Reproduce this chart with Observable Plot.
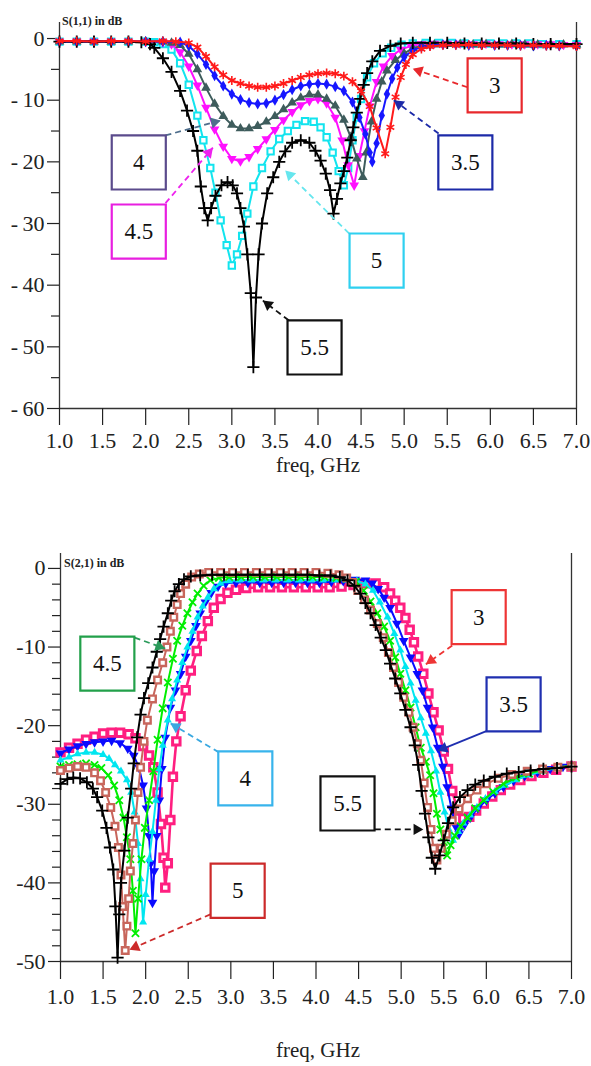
<!DOCTYPE html>
<html><head><meta charset="utf-8">
<script src="https://cdn.jsdelivr.net/npm/d3@7"></script>
<script src="https://cdn.jsdelivr.net/npm/@observablehq/plot@0.6"></script>
<style>
body{margin:0;background:#fff;}
#wrap{position:relative;width:591px;height:1066px;overflow:hidden;font-family:"Liberation Serif","Times New Roman",serif;color:#222;}
#wrap svg{position:absolute;left:0;font-family:"Liberation Serif","Times New Roman",serif !important;}
#wrap svg text{font-family:"Liberation Serif","Times New Roman",serif !important;}
.t{position:absolute;white-space:nowrap;}
.ttl{font-weight:bold;font-size:12px;line-height:12px;}
.xl{font-size:21px;line-height:21px;width:200px;text-align:center;}
</style></head><body><div id="wrap"></div>
<script>
// ---------- DATA ----------
const xTicks = [1.0,1.5,2.0,2.5,3.0,3.5,4.0,4.5,5.0,5.5,6.0,6.5,7.0];
const s11Major = [0,-10,-20,-30,-40,-50,-60];
const s11Minor = [-5,-15,-25,-35,-45,-55];
const s21Major = [0,-10,-20,-30,-40,-50];
const s21Minor = [-2,-4,-6,-8,-12,-14,-16,-18,-22,-24,-26,-28,-32,-34,-36,-38,-42,-44,-46,-48];

// S(1,1) series: [freq GHz, dB]
const s11_3 = [[1.0,-0.4],[1.2,-0.4],[1.4,-0.5],[1.6,-0.4],[1.8,-0.4],[2.0,-0.5],[2.2,-0.4],[2.35,-0.5],[2.5,-0.7],[2.6,-1.4],[2.7,-2.9],[2.8,-4.6],[2.9,-5.9],[3.0,-6.8],[3.1,-7.3],[3.2,-7.7],[3.3,-7.9],[3.4,-7.9],[3.5,-7.7],[3.6,-7.3],[3.7,-6.8],[3.8,-6.3],[3.9,-5.9],[4.0,-5.7],[4.1,-5.6],[4.2,-5.7],[4.3,-6.1],[4.4,-7.0],[4.5,-8.5],[4.6,-11.0],[4.68,-14.5],[4.78,-18.7],[4.84,-14.4],[4.9,-9.5],[4.96,-6.3],[5.02,-4.2],[5.1,-2.6],[5.2,-1.7],[5.3,-1.3],[5.45,-1.1],[5.6,-1.1],[5.75,-1.0],[5.9,-1.1],[6.05,-1.1],[6.2,-1.1],[6.35,-1.2],[6.5,-1.1],[6.65,-1.2],[6.8,-1.2],[7.0,-1.3]];
const s11_35 = [[1.0,-0.5],[1.2,-0.5],[1.4,-0.5],[1.6,-0.5],[1.8,-0.5],[2.0,-0.5],[2.2,-0.5],[2.4,-0.6],[2.5,-1.2],[2.6,-2.5],[2.7,-4.2],[2.8,-6.0],[2.9,-7.7],[3.0,-9.0],[3.1,-9.9],[3.2,-10.4],[3.3,-10.6],[3.4,-10.5],[3.5,-10.0],[3.6,-9.1],[3.7,-8.3],[3.8,-7.7],[3.9,-7.4],[4.0,-7.3],[4.1,-7.4],[4.2,-7.8],[4.3,-8.5],[4.4,-10.3],[4.48,-12.8],[4.55,-15.5],[4.6,-18.5],[4.63,-20.0],[4.68,-17.0],[4.74,-12.5],[4.8,-9.0],[4.86,-6.5],[4.92,-4.7],[5.0,-3.0],[5.1,-1.9],[5.2,-1.4],[5.3,-1.1],[5.45,-1.0],[5.6,-1.0],[5.75,-1.1],[5.9,-1.0],[6.05,-1.1],[6.2,-1.1],[6.35,-1.1],[6.5,-1.2],[6.65,-1.1],[6.8,-1.2],[7.0,-1.2]];
const s11_4 = [[1.0,-0.5],[1.2,-0.5],[1.4,-0.5],[1.6,-0.5],[1.8,-0.5],[2.0,-0.5],[2.2,-0.5],[2.3,-0.7],[2.4,-1.1],[2.5,-2.5],[2.6,-5.0],[2.7,-8.0],[2.8,-10.6],[2.9,-12.6],[3.0,-14.0],[3.1,-14.6],[3.2,-14.6],[3.3,-14.2],[3.4,-13.5],[3.5,-12.6],[3.6,-11.5],[3.7,-10.4],[3.8,-9.6],[3.9,-9.1],[4.0,-9.1],[4.1,-9.8],[4.2,-10.9],[4.3,-13.2],[4.38,-16.0],[4.45,-19.5],[4.52,-22.5],[4.56,-18.5],[4.62,-13.5],[4.68,-9.8],[4.74,-7.0],[4.8,-5.2],[4.9,-3.5],[5.0,-2.4],[5.1,-1.6],[5.2,-1.2],[5.35,-1.0],[5.5,-0.9],[5.65,-0.9],[5.8,-1.0],[5.95,-0.9],[6.1,-1.0],[6.25,-0.9],[6.4,-1.0],[6.55,-1.0],[6.7,-1.0],[6.85,-1.0],[7.0,-1.0]];
const s11_45 = [[1.0,-0.5],[1.2,-0.5],[1.4,-0.5],[1.6,-0.5],[1.8,-0.5],[2.0,-0.5],[2.2,-0.6],[2.3,-0.9],[2.4,-2.2],[2.5,-4.5],[2.6,-7.6],[2.7,-11.2],[2.8,-14.7],[2.9,-17.5],[3.0,-19.5],[3.1,-19.9],[3.2,-19.2],[3.3,-17.9],[3.4,-16.3],[3.5,-14.8],[3.6,-13.2],[3.7,-11.9],[3.8,-10.8],[3.9,-10.1],[4.0,-9.8],[4.1,-10.5],[4.2,-12.8],[4.28,-16.5],[4.35,-20.5],[4.42,-23.8],[4.48,-19.0],[4.54,-15.0],[4.6,-11.0],[4.68,-7.0],[4.76,-4.5],[4.86,-2.8],[4.96,-1.8],[5.08,-1.2],[5.2,-0.9],[5.35,-0.8],[5.5,-0.8],[5.65,-0.8],[5.8,-0.9],[5.95,-0.8],[6.1,-0.9],[6.25,-0.9],[6.4,-0.9],[6.55,-0.9],[6.7,-0.9],[6.85,-1.0],[7.0,-1.0]];
const s11_5 = [[1.0,-0.5],[1.2,-0.5],[1.4,-0.5],[1.6,-0.5],[1.8,-0.5],[2.0,-0.5],[2.1,-0.6],[2.2,-0.9],[2.3,-1.8],[2.4,-4.0],[2.5,-7.5],[2.6,-12.5],[2.67,-16.5],[2.75,-21.0],[2.81,-25.0],[2.87,-29.5],[2.94,-33.5],[3.0,-36.8],[3.06,-35.0],[3.12,-32.0],[3.18,-28.4],[3.25,-24.0],[3.35,-21.0],[3.45,-18.3],[3.55,-16.3],[3.65,-15.0],[3.75,-14.0],[3.85,-13.4],[3.95,-13.5],[4.03,-14.4],[4.1,-16.0],[4.17,-18.5],[4.24,-21.5],[4.3,-23.8],[4.35,-21.0],[4.4,-16.5],[4.45,-12.8],[4.5,-9.8],[4.57,-6.3],[4.65,-4.0],[4.75,-2.4],[4.85,-1.5],[4.97,-1.0],[5.1,-0.8],[5.25,-0.7],[5.4,-0.7],[5.55,-0.7],[5.7,-0.8],[5.85,-0.8],[6.0,-0.8],[6.15,-0.8],[6.3,-0.8],[6.45,-0.8],[6.6,-0.9],[6.8,-0.9],[7.0,-0.9]];
const s11_55 = [[1.0,-0.5],[1.2,-0.5],[1.4,-0.5],[1.6,-0.5],[1.8,-0.5],[1.95,-0.6],[2.05,-0.9],[2.1,-1.5],[2.2,-3.2],[2.3,-5.4],[2.4,-8.5],[2.48,-11.7],[2.55,-15.0],[2.6,-18.2],[2.64,-24.0],[2.68,-27.5],[2.72,-29.5],[2.76,-27.5],[2.81,-25.5],[2.88,-23.8],[2.95,-23.3],[3.01,-23.8],[3.06,-25.1],[3.1,-27.5],[3.14,-30.5],[3.18,-35.0],[3.22,-41.3],[3.25,-53.3],[3.28,-42.0],[3.31,-35.0],[3.35,-30.0],[3.41,-25.1],[3.48,-22.5],[3.55,-20.0],[3.62,-18.3],[3.7,-16.9],[3.8,-16.5],[3.9,-16.9],[3.97,-18.2],[4.03,-19.8],[4.09,-21.9],[4.14,-24.6],[4.18,-28.4],[4.22,-26.0],[4.26,-23.5],[4.3,-21.5],[4.34,-19.3],[4.38,-16.5],[4.41,-14.4],[4.45,-12.0],[4.49,-9.8],[4.53,-7.5],[4.57,-5.6],[4.63,-3.7],[4.72,-2.0],[4.84,-1.2],[4.96,-0.8],[5.1,-0.7],[5.3,-0.7],[5.5,-0.7],[5.7,-0.8],[5.9,-0.8],[6.1,-0.8],[6.3,-0.8],[6.5,-0.9],[6.7,-0.9],[7.0,-0.9]];

// S(2,1) series: [freq GHz, dB]
const s21_3 = [[1.0,-23.4],[1.1,-22.8],[1.2,-22.3],[1.3,-21.8],[1.4,-21.4],[1.5,-21.0],[1.6,-20.9],[1.7,-20.9],[1.8,-21.1],[1.88,-21.6],[1.97,-22.6],[2.04,-23.8],[2.09,-25.3],[2.14,-28.5],[2.18,-32.5],[2.21,-36.8],[2.23,-40.6],[2.26,-37.5],[2.29,-32.0],[2.32,-26.5],[2.36,-22.0],[2.41,-18.8],[2.47,-15.5],[2.53,-13.0],[2.6,-10.5],[2.66,-8.6],[2.73,-6.7],[2.8,-5.0],[2.88,-3.9],[2.96,-3.1],[3.06,-2.7],[3.18,-2.5],[3.32,-2.4],[3.46,-2.4],[3.6,-2.4],[3.74,-2.4],[3.88,-2.4],[4.02,-2.4],[4.16,-2.4],[4.3,-2.3],[4.44,-2.1],[4.58,-1.9],[4.7,-1.9],[4.8,-2.4],[4.87,-3.2],[4.93,-4.1],[4.99,-5.0],[5.05,-6.3],[5.1,-7.8],[5.15,-9.4],[5.2,-11.2],[5.26,-13.4],[5.32,-15.9],[5.38,-18.3],[5.44,-20.6],[5.5,-23.3],[5.55,-25.5],[5.6,-28.3],[5.66,-30.8],[5.73,-31.8],[5.8,-31.6],[5.88,-30.8],[5.97,-29.9],[6.07,-29.0],[6.17,-28.2],[6.28,-27.5],[6.4,-26.9],[6.53,-26.4],[6.67,-26.0],[6.82,-25.6],[7.0,-25.2]];
const s21_35 = [[1.0,-23.5],[1.1,-23.0],[1.2,-22.6],[1.3,-22.3],[1.4,-22.1],[1.5,-22.0],[1.6,-21.9],[1.7,-22.2],[1.79,-22.9],[1.86,-23.8],[1.92,-25.3],[1.97,-27.6],[2.01,-30.5],[2.04,-34.0],[2.06,-37.5],[2.08,-42.5],[2.1,-38.5],[2.13,-34.0],[2.16,-29.5],[2.19,-25.5],[2.23,-21.5],[2.29,-17.7],[2.35,-15.5],[2.41,-13.4],[2.47,-11.2],[2.53,-9.2],[2.59,-7.3],[2.64,-5.7],[2.7,-4.3],[2.77,-3.1],[2.85,-2.3],[2.94,-1.9],[3.06,-1.8],[3.2,-1.8],[3.34,-1.8],[3.48,-1.8],[3.62,-1.8],[3.76,-1.8],[3.9,-1.8],[4.04,-1.8],[4.18,-1.7],[4.32,-1.6],[4.46,-1.4],[4.58,-1.5],[4.66,-1.9],[4.73,-2.6],[4.8,-3.7],[4.87,-5.0],[4.95,-7.0],[5.03,-9.2],[5.11,-11.3],[5.19,-13.4],[5.25,-15.5],[5.31,-17.7],[5.37,-20.2],[5.43,-22.8],[5.49,-25.2],[5.54,-27.8],[5.59,-30.5],[5.64,-32.8],[5.68,-33.8],[5.74,-32.7],[5.81,-31.7],[5.9,-30.5],[6.0,-29.5],[6.1,-28.6],[6.2,-27.8],[6.32,-27.0],[6.45,-26.4],[6.6,-25.9],[6.75,-25.5],[6.9,-25.2],[7.0,-25.0]];
const s21_4 = [[1.0,-24.4],[1.1,-24.0],[1.2,-23.6],[1.3,-23.4],[1.4,-23.4],[1.5,-23.7],[1.57,-24.2],[1.64,-25.0],[1.71,-25.8],[1.78,-26.9],[1.83,-28.5],[1.87,-31.0],[1.91,-35.0],[1.94,-39.5],[1.97,-45.0],[2.0,-41.5],[2.04,-37.0],[2.08,-33.5],[2.12,-29.5],[2.16,-25.5],[2.2,-22.5],[2.26,-19.3],[2.31,-16.6],[2.37,-14.2],[2.43,-12.0],[2.49,-10.0],[2.55,-8.0],[2.61,-6.2],[2.67,-4.8],[2.73,-3.7],[2.8,-2.6],[2.88,-1.9],[2.98,-1.6],[3.1,-1.5],[3.24,-1.5],[3.38,-1.5],[3.52,-1.5],[3.66,-1.5],[3.8,-1.5],[3.94,-1.5],[4.08,-1.5],[4.22,-1.5],[4.36,-1.5],[4.48,-1.6],[4.58,-2.0],[4.67,-2.8],[4.75,-4.3],[4.84,-6.2],[4.92,-8.3],[4.99,-10.4],[5.05,-12.5],[5.11,-14.6],[5.17,-16.8],[5.23,-19.0],[5.29,-21.0],[5.35,-23.2],[5.41,-25.8],[5.46,-28.5],[5.51,-31.0],[5.56,-33.2],[5.61,-34.6],[5.67,-33.5],[5.73,-32.4],[5.81,-31.4],[5.89,-30.4],[5.99,-29.3],[6.1,-28.4],[6.22,-27.6],[6.35,-26.9],[6.5,-26.3],[6.65,-25.8],[6.82,-25.4],[7.0,-25.1]];
const s21_45 = [[1.0,-25.2],[1.1,-25.0],[1.2,-24.9],[1.3,-24.8],[1.4,-25.0],[1.48,-25.4],[1.56,-26.3],[1.63,-27.6],[1.69,-29.5],[1.74,-31.7],[1.78,-34.2],[1.82,-37.0],[1.85,-41.0],[1.88,-46.4],[1.91,-42.0],[1.95,-37.0],[1.99,-33.0],[2.04,-29.5],[2.09,-25.8],[2.14,-21.8],[2.2,-17.8],[2.26,-14.5],[2.32,-11.5],[2.37,-9.2],[2.43,-7.3],[2.49,-5.7],[2.55,-4.3],[2.61,-3.2],[2.68,-2.2],[2.76,-1.5],[2.86,-1.2],[2.98,-1.1],[3.12,-1.1],[3.26,-1.1],[3.4,-1.1],[3.54,-1.1],[3.68,-1.1],[3.82,-1.1],[3.96,-1.1],[4.1,-1.1],[4.24,-1.2],[4.36,-1.3],[4.47,-1.7],[4.56,-2.8],[4.64,-4.2],[4.72,-5.7],[4.8,-7.4],[4.87,-9.2],[4.93,-11.3],[4.99,-13.4],[5.05,-15.5],[5.11,-17.7],[5.17,-20.2],[5.23,-22.8],[5.29,-24.6],[5.34,-26.3],[5.38,-28.6],[5.42,-31.2],[5.46,-33.2],[5.5,-34.8],[5.54,-36.5],[5.58,-35.2],[5.63,-34.0],[5.7,-32.8],[5.78,-31.7],[5.87,-30.5],[5.97,-29.5],[6.08,-28.4],[6.2,-27.4],[6.35,-26.6],[6.5,-26.1],[6.67,-25.6],[6.84,-25.3],[7.0,-25.1]];
const s21_5 = [[1.0,-25.7],[1.1,-25.4],[1.2,-25.2],[1.3,-25.3],[1.4,-26.0],[1.47,-27.0],[1.53,-28.5],[1.59,-30.4],[1.64,-32.8],[1.68,-35.5],[1.71,-39.0],[1.73,-43.0],[1.76,-48.6],[1.78,-45.5],[1.8,-42.0],[1.82,-38.5],[1.85,-35.0],[1.88,-32.0],[1.91,-28.5],[1.94,-25.3],[1.98,-22.0],[2.02,-19.3],[2.08,-16.6],[2.14,-14.2],[2.2,-12.0],[2.25,-10.0],[2.29,-8.0],[2.33,-6.2],[2.37,-4.6],[2.41,-3.2],[2.47,-2.0],[2.54,-1.1],[2.63,-0.7],[2.74,-0.5],[2.88,-0.5],[3.02,-0.5],[3.16,-0.5],[3.3,-0.5],[3.44,-0.5],[3.58,-0.5],[3.72,-0.5],[3.86,-0.5],[4.0,-0.5],[4.14,-0.6],[4.27,-0.8],[4.36,-1.2],[4.43,-1.8],[4.49,-2.8],[4.57,-4.0],[4.64,-5.3],[4.72,-7.0],[4.79,-8.8],[4.85,-10.7],[4.91,-12.6],[4.97,-14.5],[5.03,-16.4],[5.09,-18.3],[5.14,-20.2],[5.19,-22.3],[5.23,-24.4],[5.27,-27.3],[5.31,-30.4],[5.35,-33.2],[5.38,-35.6],[5.42,-37.1],[5.47,-35.6],[5.53,-33.8],[5.6,-32.1],[5.68,-30.6],[5.78,-29.3],[5.89,-28.2],[6.0,-27.4],[6.14,-26.7],[6.3,-26.2],[6.48,-25.8],[6.66,-25.5],[6.84,-25.3],[7.0,-25.2]];
const s21_55 = [[1.0,-27.4],[1.08,-26.8],[1.15,-26.6],[1.23,-26.7],[1.31,-27.2],[1.38,-28.0],[1.43,-29.1],[1.49,-30.8],[1.54,-33.0],[1.58,-35.5],[1.62,-38.3],[1.645,-43.0],[1.67,-49.5],[1.69,-44.0],[1.71,-40.0],[1.75,-35.9],[1.79,-31.7],[1.83,-28.0],[1.86,-24.8],[1.9,-21.5],[1.94,-18.6],[1.98,-16.5],[2.03,-14.6],[2.08,-12.6],[2.13,-10.6],[2.17,-9.0],[2.21,-7.4],[2.26,-5.7],[2.3,-4.1],[2.34,-2.9],[2.39,-2.0],[2.45,-1.4],[2.53,-1.0],[2.64,-0.9],[2.78,-0.8],[2.92,-0.8],[3.06,-0.8],[3.2,-0.8],[3.34,-0.8],[3.48,-0.8],[3.62,-0.8],[3.76,-0.8],[3.9,-0.8],[4.04,-0.9],[4.17,-0.9],[4.28,-1.1],[4.37,-1.5],[4.45,-2.2],[4.52,-3.2],[4.58,-4.4],[4.64,-5.7],[4.7,-7.2],[4.76,-8.8],[4.82,-10.4],[4.87,-12.1],[4.93,-14.0],[4.99,-15.9],[5.05,-18.0],[5.11,-20.2],[5.16,-22.5],[5.2,-25.0],[5.24,-28.3],[5.28,-31.2],[5.32,-34.2],[5.36,-36.8],[5.4,-38.2],[5.45,-36.5],[5.5,-34.6],[5.55,-32.4],[5.61,-30.4],[5.69,-29.1],[5.78,-28.2],[5.87,-27.5],[5.97,-27.0],[6.1,-26.5],[6.24,-26.1],[6.38,-25.9],[6.52,-25.7],[6.67,-25.5],[6.83,-25.4],[7.0,-25.2]];

// Annotation labels (box centres) and arrows, in data units
const s11Boxes = [
  {label:"3", f:6.05, db:-7.6}, {label:"3.5", f:5.71, db:-20.1}, {label:"4", f:1.92, db:-20.1},
  {label:"4.5", f:1.92, db:-31.3}, {label:"5", f:4.68, db:-36.0}, {label:"5.5", f:3.96, db:-50.1}];
const s11Arrows = [
  {label:"3", f1:5.735, db1:-7.9, f2:5.10, db2:-4.9}, {label:"3.5", f1:5.40, db1:-15.4, f2:4.88, db2:-10.0},
  {label:"4", f1:2.23, db1:-15.7, f2:2.87, db2:-13.3}, {label:"4.5", f1:2.23, db1:-26.7, f2:2.78, db2:-17.7},
  {label:"5", f1:4.36, db1:-31.6, f2:3.62, db2:-21.4}, {label:"5.5", f1:3.66, db1:-45.7, f2:3.36, db2:-42.5}];
const s21Boxes = [
  {label:"3", f:5.91, db:-6.2}, {label:"3.5", f:6.32, db:-17.3}, {label:"4", f:3.17, db:-26.7},
  {label:"4.5", f:1.55, db:-12.1}, {label:"5", f:3.08, db:-41.0}, {label:"5.5", f:4.37, db:-29.9}];
const s21Arrows = [
  {label:"3", f1:5.60, db1:-9.8, f2:5.29, db2:-12.2}, {label:"3.5", f1:6.0, db1:-20.7, f2:5.43, db2:-23.2},
  {label:"4", f1:2.86, db1:-23.4, f2:2.29, db2:-19.7}, {label:"4.5", f1:1.87, db1:-8.8, f2:2.23, db2:-10.2},
  {label:"5", f1:2.76, db1:-44.0, f2:1.81, db2:-48.5}, {label:"5.5", f1:4.69, db1:-33.2, f2:5.26, db2:-33.2}];

// ---------- STYLES ----------
const SERIF = "'Liberation Serif','Times New Roman',serif";
const s11Styles = [
  {data:s11_5,  color:"#12e4ee", symbol:"square", r:3.6, hollow:true, sw:2},
  {data:s11_45, color:"#ff10ff", symbol:"triangle", r:3.6, rotate:180},
  {data:s11_4,  color:"#3e5c5c", symbol:"triangle", r:3.6},
  {data:s11_35, color:"#1616ff", symbol:"diamond", r:3.4},
  {data:s11_55, color:"#000000", symbol:"plus", r:4, stroke:true, sw:1.8},
  {data:s11_3,  color:"#ff1a1a", symbol:"asterisk", r:4.2, stroke:true, sw:1.6}];
const s21Styles = [
  {data:s21_3,  color:"#ff1f80", symbol:"square", r:4.2, hollow:true, sw:3, lw:2.6},
  {data:s21_35, color:"#0a0aff", symbol:"triangle", r:3.6, rotate:180},
  {data:s21_4,  color:"#00e6f0", symbol:"triangle", r:3.0},
  {data:s21_45, color:"#00ee00", symbol:"times", r:3.4, stroke:true, sw:1.8},
  {data:s21_5,  color:"#c8665c", symbol:"square", r:3.7, hollow:true, sw:2.4},
  {data:s21_55, color:"#000000", symbol:"plus", r:4, stroke:true, sw:1.8}];
const s11BoxColor = {"3":"#e8282c","3.5":"#1c2aa8","4":"#5b4b8c","4.5":"#e81fe0","5":"#2fd0f0","5.5":"#111111"};
const s11ArrowColor = {"3":"#e8282c","3.5":"#1c2aa8","4":"#4f6e8c","4.5":"#ee22ee","5":"#66e6ee","5.5":"#111111"};
const s21BoxColor = {"3":"#ee3535","3.5":"#1f2fb0","4":"#38b4ec","4.5":"#22a04a","5":"#cc2a2a","5.5":"#111111"};
const s21ArrowColor = {"3":"#ee3535","3.5":"#1f2fb0","4":"#3aa8e0","4.5":"#2a9a5a","5":"#cc2a2a","5.5":"#111111"};

function panel(cfg) {
  const {series, boxes, arrows, boxColor, arrowColor, yDomain, majors, minors, height,
         mt, mb, ml, mr, xTickSize, xTickPad, yFmt, solid} = cfg;
  const W = 591, xDomain = [1, 7];
  const kx = (W - ml - mr) / (xDomain[1] - xDomain[0]);
  const ky = (height - mt - mb) / (yDomain[1] - yDomain[0]);
  const heads = arrows.map(a => {
    const px = (a.f2 - a.f1) * kx, py = -(a.db2 - a.db1) * ky;
    const len = Math.hypot(px, py), back = 6.5;
    return {label: a.label,
      f: a.f2 - (px / len) * back / kx,
      db: a.db2 + (py / len) * back / ky,
      rot: Math.atan2(px, -py) * 180 / Math.PI};
  });
  const marks = [
    Plot.ruleX(xDomain, {stroke:"#333", strokeWidth:1.3}),
    Plot.ruleY([yDomain[0]], {stroke:"#333", strokeWidth:1.3}),
    Plot.axisY({ticks: minors, tickSize: 8, tickFormat: () => "", label: null, strokeWidth:1.2}),
    Plot.axisY({ticks: majors, tickSize: 12, tickPadding: 3, tickFormat: yFmt, label: null, fontSize: 22, fontFamily: SERIF, strokeWidth:1.2}),
    Plot.axisX({ticks: xTicks, tickSize: xTickSize, tickPadding: xTickPad, tickFormat: d3.format(".1f"), label: null, fontSize: 22, fontFamily: SERIF, strokeWidth:1.2})
  ];
  for (const s of series) {
    marks.push(Plot.line(s.data, {x: d => d[0], y: d => d[1], stroke: s.color, strokeWidth: s.lw || 2}));
    const o = {x: d => d[0], y: d => d[1], symbol: s.symbol, r: s.r};
    if (s.rotate) o.rotate = s.rotate;
    if (s.hollow) Object.assign(o, {fill: "white", stroke: s.color, strokeWidth: s.sw});
    else if (s.stroke) Object.assign(o, {fill: "none", stroke: s.color, strokeWidth: s.sw});
    else Object.assign(o, {fill: s.color, stroke: "none"});
    marks.push(Plot.dot(s.data, o));
  }
  const dashed = arrows.filter(a => !(solid || []).includes(a.label));
  const solidA = arrows.filter(a => (solid || []).includes(a.label));
  marks.push(Plot.link(dashed, {x1:"f1", y1:"db1", x2:"f2", y2:"db2", stroke: d => arrowColor[d.label], strokeWidth:1.8, strokeDasharray:"6,4"}));
  marks.push(Plot.link(solidA, {x1:"f1", y1:"db1", x2:"f2", y2:"db2", stroke: d => arrowColor[d.label], strokeWidth:1.8}));
  marks.push(Plot.dot(heads, {x:"f", y:"db", symbol:"triangle", r:4.2, rotate:"rot", fill: d => arrowColor[d.label], stroke:"none"}));
  marks.push(Plot.dot(boxes, {x:"f", y:"db", symbol:"square", r:30.5, fill:"white", stroke: d => boxColor[d.label], strokeWidth:2.2}));
  marks.push(Plot.text(boxes, {x:"f", y:"db", text:"label", fontSize:23, fontFamily: SERIF, fill:"#111"}));
  return Plot.plot({
    width: W, height, marginTop: mt, marginBottom: mb, marginLeft: ml, marginRight: mr,
    x: {domain: xDomain, label: null},
    y: {domain: yDomain, label: null},
    color: {type: "identity"},
    style: {fontFamily: SERIF, fontSize: "22px", color: "#222", background: "white", overflow: "visible"},
    marks
  });
}

const wrap = document.getElementById("wrap");
const top1 = panel({series: s11Styles, boxes: s11Boxes, arrows: s11Arrows, boxColor: s11BoxColor, arrowColor: s11ArrowColor,
  yDomain: [-60, 2.6], majors: s11Major, minors: s11Minor, height: 500, mt: 22, mb: 92, ml: 59, mr: 15,
  xTickSize: 17, xTickPad: 7, yFmt: d => d === 0 ? "0" : "-\u2009" + Math.abs(d)});
top1.style.top = "0px";
wrap.appendChild(top1);
const bot = panel({series: s21Styles, boxes: s21Boxes, arrows: s21Arrows, boxColor: s21BoxColor, arrowColor: s21ArrowColor,
  yDomain: [-50, 1.9], majors: s21Major, minors: s21Minor, height: 566, mt: 53, mb: 105, ml: 60, mr: 20,
  xTickSize: 18, xTickPad: 9, yFmt: d => d === 0 ? "0" : "-" + Math.abs(d), solid: ["3.5"]});
bot.style.top = "500px";
wrap.appendChild(bot);

function addText(cls, txt, left, top) {
  const d = document.createElement("div");
  d.className = "t " + cls; d.textContent = txt;
  d.style.left = left + "px"; d.style.top = top + "px";
  wrap.appendChild(d);
}
addText("ttl", "S(1,1) in dB", 62, 15);
addText("ttl", "S(2,1) in dB", 64, 557);
addText("xl", "freq, GHz", 218, 455);
addText("xl", "freq, GHz", 218, 1040);
</script></body></html>
